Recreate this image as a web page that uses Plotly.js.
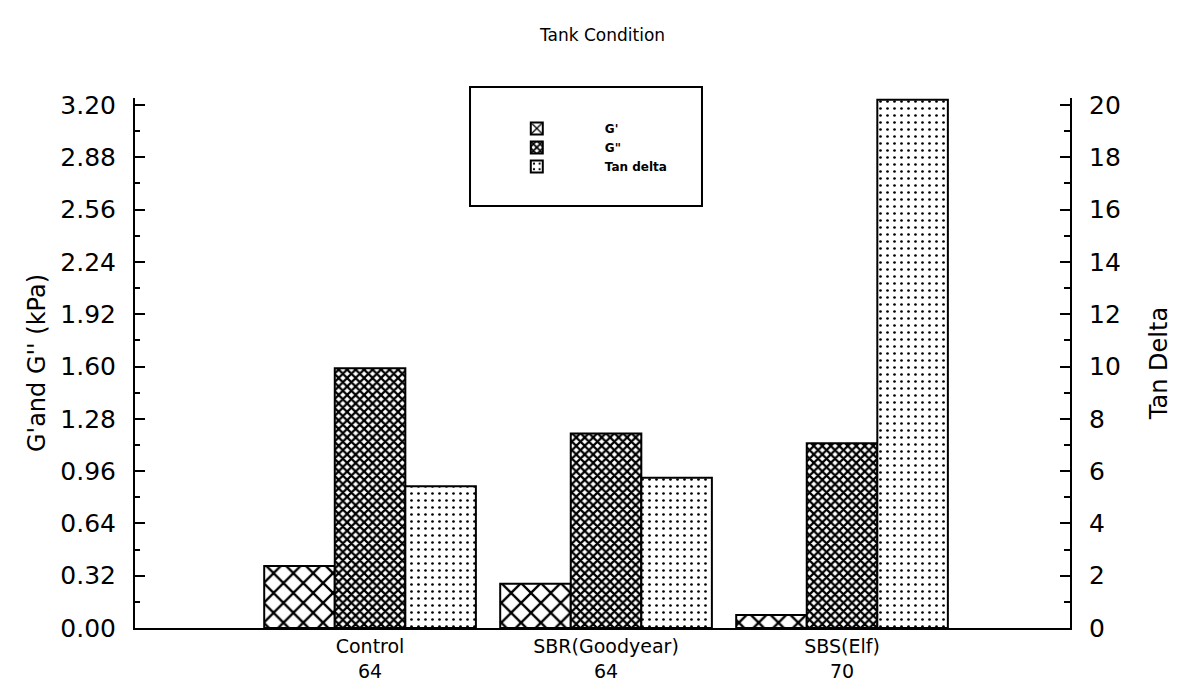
<!DOCTYPE html>
<html><head><meta charset="utf-8">
<script src="https://cdn.plot.ly/plotly-3.0.1.min.js"></script>
<style>html,body{margin:0;padding:0;background:#fff}#chart{width:1193px;height:692px}</style>
</head><body><div id="chart"></div>
<script>
// ---- data ----
const categories = ['Control<br>64', 'SBR(Goodyear)<br>64', 'SBS(Elf)<br>70'];
const gPrime = [0.38, 0.27, 0.08];          // G' (kPa)
const gDoublePrime = [1.59, 1.19, 1.13];    // G'' (kPa)
const tanDelta = [5.42, 5.75, 20.2];        // Tan delta
const seriesNames = ["G'", 'G"', 'Tan delta'];
const leftTicks = ['0.00','0.32','0.64','0.96','1.28','1.60','1.92','2.24','2.56','2.88','3.20'];
const leftMinor = [0.16, 0.48, 0.80, 1.12, 1.44, 1.76, 2.08, 2.40, 2.72, 3.04];

// ---- styling ----
const FONT = 'DejaVu Sans, Arial, sans-serif';
const BW = 0.299;
const lineStyle = {color: '#000', width: 2};
// plot area extends a few px above the top tick so the tallest bar's outline shows
const HEAD = 530 / 523;

const traces = [
  {type: 'bar', name: seriesNames[0], x: categories, y: gPrime, yaxis: 'y',
   width: BW, offset: -1.5 * BW,
   marker: {color: '#fff', line: lineStyle,
            pattern: {shape: 'x', size: 14, solidity: 0.3, fgcolor: '#000', bgcolor: '#fff'}}},
  {type: 'bar', name: seriesNames[1], x: categories, y: gDoublePrime, yaxis: 'y',
   width: BW, offset: -0.5 * BW,
   marker: {color: '#fff', line: lineStyle,
            pattern: {shape: 'x', size: 6, solidity: 0.6, fgcolor: '#000', bgcolor: '#fff'}}},
  {type: 'bar', name: seriesNames[2], x: categories, y: tanDelta, yaxis: 'y2',
   width: BW, offset: 0.5 * BW,
   marker: {color: '#fff', line: lineStyle,
            pattern: {shape: '.', size: 7, solidity: 0.12, fgcolor: '#000', bgcolor: '#fff'}}}
];

const leftVals = leftTicks.map(Number);

const layout = {
  width: 1193, height: 692,
  paper_bgcolor: '#fff', plot_bgcolor: '#fff',
  margin: {l: 135, r: 123, t: 98, b: 64},
  font: {family: FONT, color: '#000'},
  barmode: 'overlay',
  showlegend: true,
  title: {text: 'Tank Condition', font: {size: 17, family: FONT, color: '#000'},
          x: 0.5, xref: 'paper', xanchor: 'center', y: 0.949, yref: 'container', yanchor: 'middle'},
  xaxis: {
    type: 'category', range: [-0.996, 2.966],
    showline: true, linecolor: '#000', linewidth: 2,
    showgrid: false, zeroline: false, ticks: '',
    tickfont: {size: 19, family: FONT, color: '#000'}
  },
  yaxis: {
    range: [0, 3.2 * HEAD], tickvals: leftVals, ticktext: leftTicks,
    showline: true, linecolor: '#000', linewidth: 2,
    showgrid: false, zeroline: false,
    ticks: 'inside', ticklen: 10, tickwidth: 2, tickcolor: '#000',
    minor: {tickvals: leftMinor, ticks: 'inside', ticklen: 5, tickwidth: 2, tickcolor: '#000', showgrid: false},
    ticklabelstandoff: 12,
    tickfont: {size: 25, family: FONT, color: '#000'},
    title: {text: "G'and G'' (kPa)", font: {size: 24, family: FONT, color: '#000'}, standoff: 8}
  },
  yaxis2: {
    overlaying: 'y', side: 'right', range: [0, 20 * HEAD], tickvals: [0,2,4,6,8,10,12,14,16,18,20],
    showline: true, linecolor: '#000', linewidth: 2,
    showgrid: false, zeroline: false,
    ticks: 'inside', ticklen: 10, tickwidth: 2, tickcolor: '#000',
    minor: {tickvals: [1,3,5,7,9,11,13,15,17,19], ticks: 'inside', ticklen: 6, tickwidth: 2, tickcolor: '#000', showgrid: false},
    ticklabelstandoff: 12,
    tickfont: {size: 25, family: FONT, color: '#000'},
    title: {text: 'Tan Delta', font: {size: 24, family: FONT, color: '#000'}, standoff: 30}
  },
  legend: {
    x: 0.357, y: 0.97, xanchor: 'left', yanchor: 'top',
    bgcolor: 'rgba(0,0,0,0)', borderwidth: 0,
    font: {size: 12, family: FONT, color: '#000', weight: 'bold'},
    itemwidth: 126, traceorder: 'normal'
  },
  shapes: [
    {type: 'rect', xref: 'paper', yref: 'paper', x0: 0.3583, x1: 0.6064,
     y0: (628 - 206) / 530, y1: (628 - 87) / 530,
     line: {color: '#000', width: 2}, fillcolor: 'rgba(0,0,0,0)', layer: 'above'}
  ]
};

Plotly.newPlot('chart', traces, layout, {displayModeBar: false, staticPlot: true});
</script>
</body></html>
